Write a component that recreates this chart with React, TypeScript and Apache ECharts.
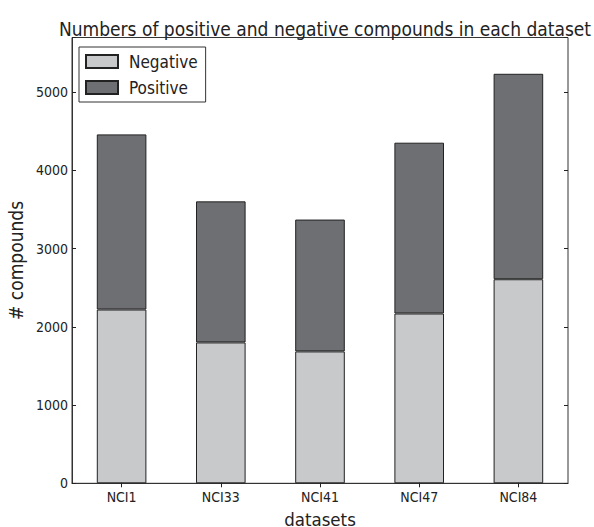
import React, { useEffect, useRef } from "react";
import * as echarts from "echarts";

const categories = ["NCI1", "NCI33", "NCI41", "NCI47", "NCI84"];
const negativeValues = [2222, 1801, 1686, 2171, 2609];
const positiveValues = [2239, 1804, 1686, 2184, 2627];
const yTicks = [0, 1000, 2000, 3000, 4000, 5000];

const FONT = "'DejaVu Sans Condensed', 'DejaVu Sans', sans-serif";

export default function App() {
  const ref = useRef<HTMLDivElement>(null);
  useEffect(() => {
    if (!ref.current) return;
    const chart = echarts.init(ref.current, undefined, { renderer: "svg" });
    const tickStyle = { color: "#222", width: 1 };
    chart.setOption({
      animation: false,
      backgroundColor: "#fff",
      textStyle: { fontFamily: FONT, color: "#222" },
      title: {
        text: "Numbers of positive and negative compounds in each dataset",
        left: 320,
        textAlign: "center",
        top: 14,
        textStyle: { fontFamily: FONT, fontSize: 19, fontWeight: "normal", color: "#222" },
      },
      legend: {
        orient: "vertical",
        left: 79,
        top: 47,
        padding: [6, 8, 6, 6],
        itemWidth: 32,
        itemHeight: 13,
        itemGap: 9,
        borderColor: "#333",
        borderWidth: 1,
        borderRadius: 0,
        icon: "rect",
        textStyle: { fontFamily: FONT, fontSize: 17, color: "#222", padding: [0, 0, 0, 6] },
        data: ["Negative", "Positive"],
      },
      grid: {
        left: 72,
        right: 26,
        top: 37.5,
        bottom: 43.7,
        show: true,
        borderColor: "#333",
        borderWidth: 1,
        containLabel: false,
        outerBoundsMode: "none",
      },
      xAxis: [
        {
          type: "category",
          data: categories,
          boundaryGap: true,
          name: "datasets",
          nameLocation: "middle",
          nameGap: 18,
          nameTextStyle: { fontFamily: FONT, fontSize: 18.5, lineHeight: 20, color: "#222" },
          axisLine: { show: true, lineStyle: { color: "#333" } },
          axisTick: { show: true, inside: true, alignWithLabel: true, length: 4, lineStyle: tickStyle },
          axisLabel: { fontFamily: FONT, fontSize: 14, color: "#222", margin: 7 },
          splitLine: { show: false },
        },
        {
          type: "category",
          data: categories,
          position: "top",
          boundaryGap: true,
          axisLine: { show: false },
          axisTick: { show: true, inside: true, alignWithLabel: true, length: 4, lineStyle: tickStyle },
          axisLabel: { show: false },
        },
      ],
      yAxis: [
        {
          type: "value",
          min: 0,
          max: 5700,
          interval: 1000,
          name: "# compounds",
          nameLocation: "middle",
          nameGap: 41,
          nameTextStyle: { fontFamily: FONT, fontSize: 19, color: "#222" },
          axisLine: { show: true, lineStyle: { color: "#333" } },
          axisTick: { show: true, inside: true, length: 4, lineStyle: tickStyle },
          axisLabel: {
            fontFamily: FONT,
            fontSize: 14,
            color: "#222",
            margin: 4,
            formatter: (v: number) => (yTicks.includes(v) ? String(v) : ""),
          },
          splitLine: { show: false },
        },
        {
          type: "value",
          min: 0,
          max: 5700,
          interval: 1000,
          position: "right",
          axisLine: { show: false },
          axisTick: { show: true, inside: true, length: 4, lineStyle: tickStyle },
          axisLabel: { show: false },
          splitLine: { show: false },
        },
      ],
      series: [
        {
          name: "Negative",
          type: "bar",
          stack: "total",
          data: negativeValues,
          barWidth: "50%",
          itemStyle: { color: "#c8c9cb", borderColor: "#222", borderWidth: 1 },
        },
        {
          name: "Positive",
          type: "bar",
          stack: "total",
          data: positiveValues,
          barWidth: "50%",
          itemStyle: { color: "#6e6f73", borderColor: "#222", borderWidth: 1 },
        },
      ],
    });
    return () => chart.dispose();
  }, []);
  return (
    <div
      ref={ref}
      style={{ position: "absolute", left: 0, top: 0, width: 594, height: 527 }}
    />
  );
}
